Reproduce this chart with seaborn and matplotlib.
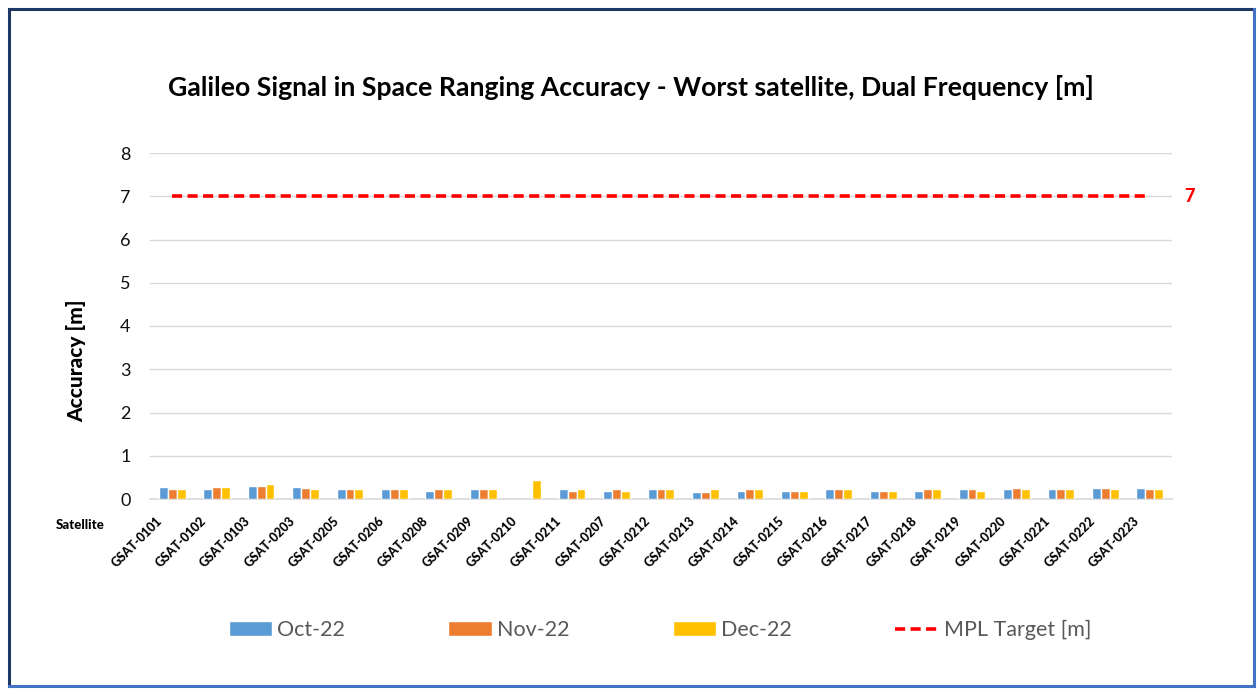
import numpy as np
import pandas as pd
import matplotlib
matplotlib.use("Agg")
import matplotlib.pyplot as plt
import matplotlib.transforms as mtransforms
from matplotlib.lines import Line2D
import seaborn as sns

satellites = ["GSAT-0101", "GSAT-0102", "GSAT-0103", "GSAT-0203", "GSAT-0205", "GSAT-0206",
              "GSAT-0208", "GSAT-0209", "GSAT-0210", "GSAT-0211", "GSAT-0207", "GSAT-0212",
              "GSAT-0213", "GSAT-0214", "GSAT-0215", "GSAT-0216", "GSAT-0217", "GSAT-0218",
              "GSAT-0219", "GSAT-0220", "GSAT-0221", "GSAT-0222", "GSAT-0223"]
oct22 = [0.28, 0.24, 0.30, 0.28, 0.22, 0.22, 0.18, 0.24, np.nan, 0.22, 0.19, 0.22,
         0.17, 0.19, 0.19, 0.22, 0.18, 0.18, 0.23, 0.24, 0.24, 0.26, 0.26]
nov22 = [0.22, 0.28, 0.30, 0.25, 0.22, 0.22, 0.22, 0.22, np.nan, 0.19, 0.22, 0.24,
         0.17, 0.22, 0.18, 0.22, 0.18, 0.22, 0.22, 0.26, 0.24, 0.26, 0.24]
dec22 = [0.24, 0.28, 0.35, 0.22, 0.22, 0.24, 0.24, 0.24, 0.45, 0.24, 0.19, 0.24,
         0.22, 0.22, 0.19, 0.22, 0.18, 0.22, 0.18, 0.23, 0.22, 0.22, 0.23]
months = ["Oct-22", "Nov-22", "Dec-22"]
colors = ["#5B9BD5", "#ED7D31", "#FFC000"]
target = [7] * len(satellites)

sns.set_theme(style="white")
plt.rcParams["font.family"] = ["Lato", "DejaVu Sans"]

df = pd.DataFrame({
    "Satellite": satellites * 3,
    "Month": sum([[m] * len(satellites) for m in months], []),
    "Accuracy": oct22 + nov22 + dec22,
})

fig = plt.figure(figsize=(12.57, 6.89), dpi=100)
ax = fig.add_axes([150 / 1257, 1 - 499 / 689, 1022 / 1257, 346 / 689])

sns.barplot(data=df, x="Satellite", y="Accuracy", hue="Month", order=satellites,
            hue_order=months, palette=colors, errorbar=None, width=0.6,
            saturation=1, ax=ax, zorder=3)
ax.plot(range(len(satellites)), target, color="#FF0000", lw=2.6, dashes=(2.8, 1.5),
        label="MPL Target [m]", zorder=4)
ax.annotate(str(target[-1]), xy=(len(satellites) - 1, target[-1]), xytext=(25, 0),
            textcoords="offset points", ha="left", va="center", color="#FF0000",
            fontsize=13, fontweight="black")

ax.set_ylim(0, 8)
ax.set_xlim(-0.5, len(satellites) - 0.5)
ax.set_yticks(range(0, 9))
ax.yaxis.grid(True, color="#D9D9D9", lw=1)
ax.set_axisbelow(True)
for s in ["top", "right", "left"]:
    ax.spines[s].set_visible(False)
ax.spines["bottom"].set_color("#D9D9D9")
ax.spines["bottom"].set_linewidth(1.2)
ax.tick_params(axis="y", length=0, pad=14, labelsize=13, labelcolor="#111111")
ax.tick_params(axis="x", length=0, pad=14)
ax.set_xlabel("")
ax.set_ylabel("Accuracy [m]", fontsize=15, fontweight="black", color="black")
ax.yaxis.set_label_coords(-0.062, 0.40)

offset = mtransforms.ScaledTranslation(-9 / 72, 0, fig.dpi_scale_trans)
for lbl in ax.get_xticklabels():
    lbl.set_rotation(45)
    lbl.set_ha("right")
    lbl.set_va("center")
    lbl.set_rotation_mode("anchor")
    lbl.set_fontsize(9)
    lbl.set_fontweight("black")
    lbl.set_color("black")
    lbl.set_transform(lbl.get_transform() + offset)

handles, labels = ax.get_legend_handles_labels()
ax.legend_.remove()
fig.legend(handles, labels, loc="center", bbox_to_anchor=(660 / 1257, 1 - 630 / 689),
           ncol=4, frameon=False, fontsize=15.5, labelcolor="#595959",
           handlelength=2.0, handleheight=0.7, handletextpad=0.25, columnspacing=4.8)

fig.text(631 / 1257, 1 - 87 / 689,
         "Galileo Signal in Space Ranging Accuracy - Worst satellite, Dual Frequency [m]",
         ha="center", va="center", fontsize=19.2, fontweight="bold", color="black")
fig.text(80 / 1257, 1 - 525 / 689, "Satellite", ha="center", va="center",
         fontsize=9.5, fontweight="black", color="black")

# chart border
W, H = 1257, 689
def fl(x0, y0, x1, y1, c, lw):
    fig.add_artist(Line2D([x0 / W, x1 / W], [1 - y0 / H, 1 - y1 / H], color=c, lw=lw,
                          transform=fig.transFigure, solid_capstyle="projecting"))
fl(9, 9, 1254, 9, "#1F3864", 2.2)
fl(9, 9, 9, 686, "#1F3864", 2.2)
fl(1254, 9, 1254, 686, "#4472C4", 2.2)
fl(9, 686, 1254, 686, "#4472C4", 2.2)

fig.savefig("out.png", dpi=100, facecolor="white")
